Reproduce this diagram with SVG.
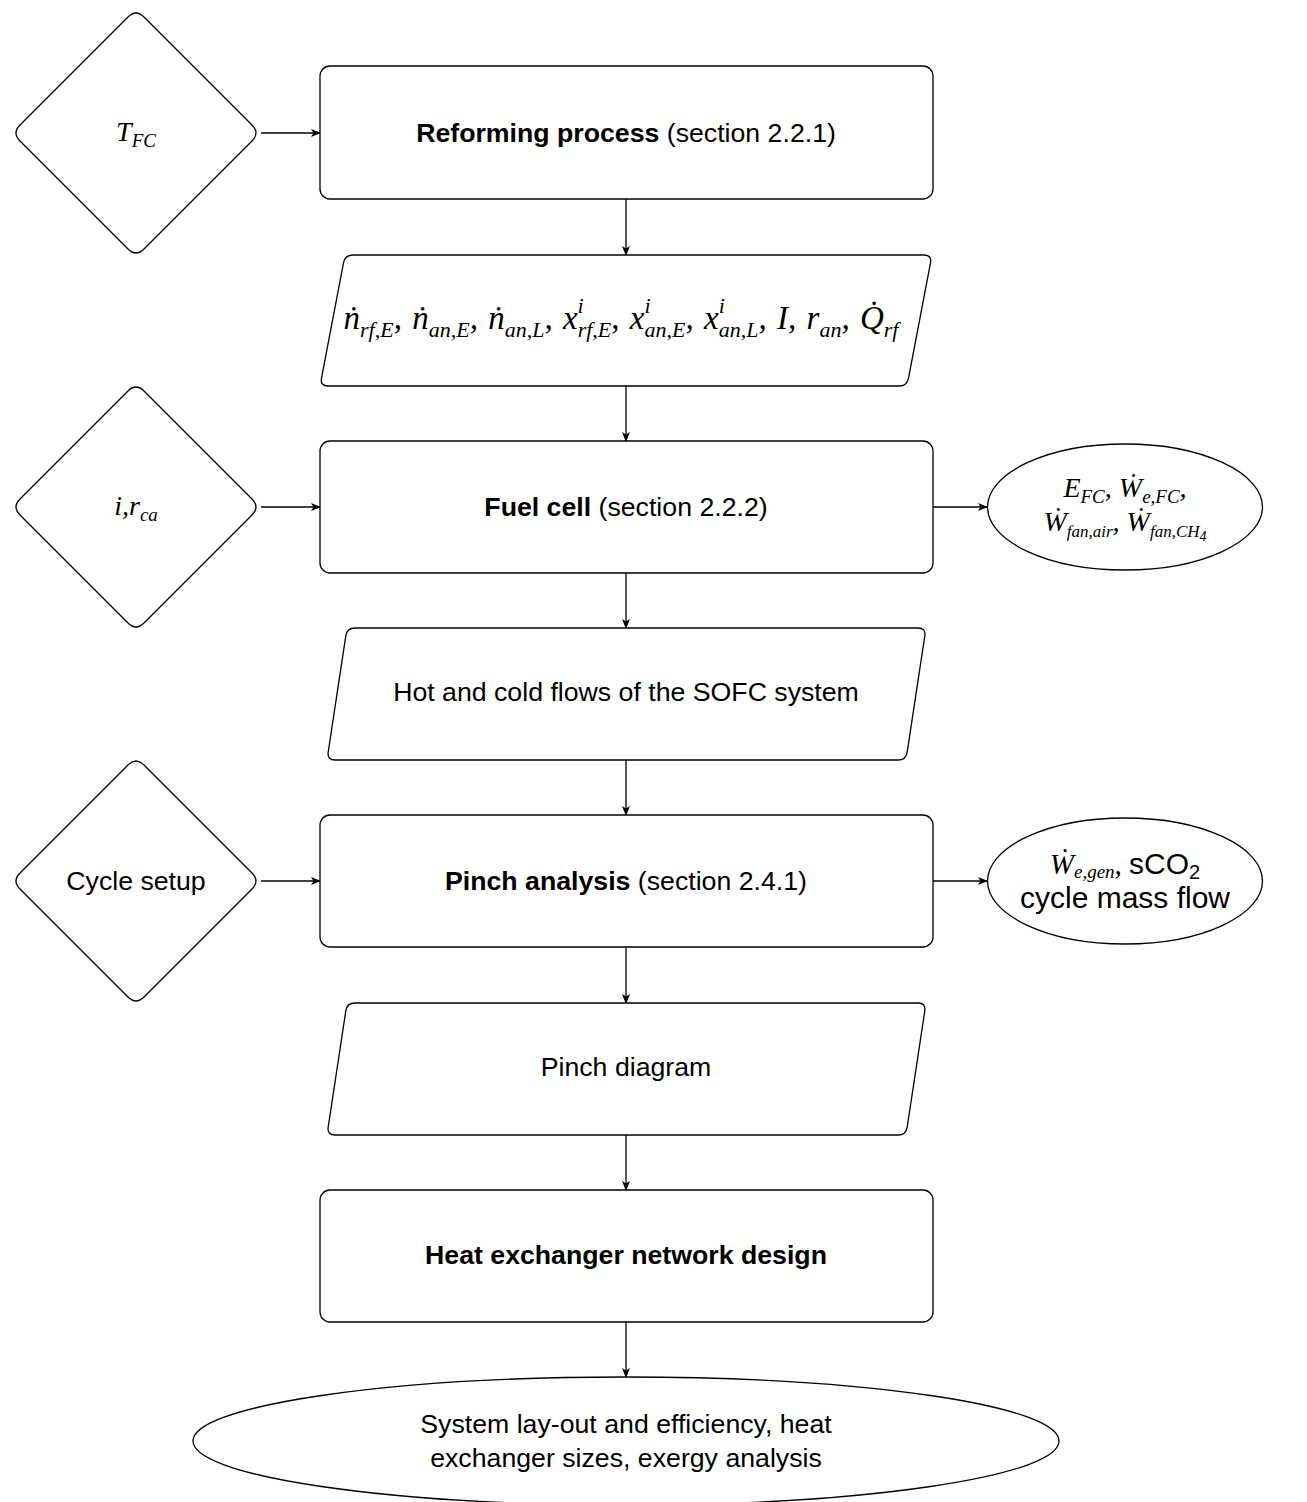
<svg xmlns="http://www.w3.org/2000/svg" width="1307" height="1502" viewBox="0 0 1307 1502">
<style>
.shape{fill:#fff;stroke:#000;stroke-width:1.3}
.ln{fill:none;stroke:#000;stroke-width:1.3}
.t{font-family:"Liberation Sans",Arial,sans-serif;font-size:26.7px;fill:#000;text-anchor:middle}
.b{font-weight:bold}
.m{font-family:"Liberation Serif","Times New Roman",serif;font-style:italic;font-size:28px;fill:#000;text-anchor:middle}
.mb{font-size:33px;word-spacing:2px}
.s{font-size:19px}
.sb{font-size:22px}
.ss{font-size:14px}
.sans{font-family:"Liberation Sans",Arial,sans-serif;font-style:normal}
</style>
<defs>
<marker id="ah" viewBox="0 0 10 8" refX="9" refY="4" markerWidth="10" markerHeight="8" markerUnits="userSpaceOnUse" orient="auto">
<path d="M0,0 L10,4 L0,8 L2.5,4 Z" fill="#000"/>
</marker>
</defs>
<rect width="1307" height="1502" fill="#fff"/>

<g id="connectors" class="ln" marker-end="url(#ah)">
<line x1="626" y1="199" x2="626" y2="255"/>
<line x1="626" y1="386" x2="626" y2="441"/>
<line x1="626" y1="573" x2="626" y2="628"/>
<line x1="626" y1="760" x2="626" y2="815"/>
<line x1="626" y1="947" x2="626" y2="1003"/>
<line x1="626" y1="1135" x2="626" y2="1190"/>
<line x1="626" y1="1322" x2="626" y2="1377"/>
<line x1="261" y1="133" x2="320" y2="133"/>
<line x1="261" y1="507" x2="320" y2="507"/>
<line x1="261" y1="881" x2="320" y2="881"/>
<line x1="933" y1="507" x2="987" y2="507"/>
<line x1="933" y1="881" x2="987" y2="881"/>
</g>

<g id="d-tfc">
<path class="shape" d="M128,17 Q136,9 144,17 L252,125 Q260,133 252,141 L144,249 Q136,257 128,249 L20,141 Q12,133 20,125 Z"/>
<text class="m" x="136" y="141">T<tspan class="s" dy="6">FC</tspan></text>
</g>

<g id="reforming">
<rect class="shape" x="320" y="66" width="613" height="133" rx="10"/>
<text class="t" x="626" y="142"><tspan class="b">Reforming process</tspan> (section 2.2.1)</text>
</g>

<g id="p-flows">
<path class="shape" d="M353,255 L924,255 Q932,255 930.5,262.9 L908.5,378.1 Q907,386 899,386 L328,386 Q320,386 321.5,378.1 L343.5,262.9 Q345,255 353,255 Z"/>
<text class="m mb" x="621" y="329">ṅ<tspan class="sb" dy="8">rf,E</tspan><tspan dy="-8">, ṅ</tspan><tspan class="sb" dy="8">an,E</tspan><tspan dy="-8">, ṅ</tspan><tspan class="sb" dy="8">an,L</tspan><tspan dy="-8">, x</tspan><tspan class="sb" dy="-16">i</tspan><tspan class="sb" dx="-6" dy="24">rf,E</tspan><tspan dy="-8">, x</tspan><tspan class="sb" dy="-16">i</tspan><tspan class="sb" dx="-6" dy="24">an,E</tspan><tspan dy="-8">, x</tspan><tspan class="sb" dy="-16">i</tspan><tspan class="sb" dx="-6" dy="24">an,L</tspan><tspan dy="-8">, I, r</tspan><tspan class="sb" dy="8">an</tspan><tspan dy="-8">, Q̇</tspan><tspan class="sb" dy="8">rf</tspan></text>
</g>

<g id="d-irca">
<path class="shape" d="M128,391 Q136,383 144,391 L252,499 Q260,507 252,515 L144,623 Q136,631 128,623 L20,515 Q12,507 20,499 Z"/>
<text class="m" x="136" y="515">i,r<tspan class="s" dy="6">ca</tspan></text>
</g>

<g id="fuelcell">
<rect class="shape" x="320" y="441" width="613" height="132" rx="10"/>
<text class="t" x="626" y="516"><tspan class="b">Fuel cell</tspan> (section 2.2.2)</text>
</g>

<g id="e-fc">
<ellipse class="shape" cx="1125" cy="507" rx="137.5" ry="63"/>
<text class="m" x="1125" y="497">E<tspan class="s" dy="6">FC</tspan><tspan dy="-6">, Ẇ</tspan><tspan class="s" dy="6">e,FC</tspan><tspan dy="-6">,</tspan></text>
<text class="m" x="1125" y="531">Ẇ<tspan class="s" dy="6" style="font-size:17px">fan,air</tspan><tspan dy="-6">, Ẇ</tspan><tspan class="s" dy="6" style="font-size:17px">fan,CH</tspan><tspan class="ss" dy="4">4</tspan></text>
</g>

<g id="p-hotcold">
<path class="shape" d="M355,628 L918,628 Q926,628 924.8,635.9 L907.2,752.1 Q906,760 898,760 L335,760 Q327,760 328.2,752.1 L345.8,635.9 Q347,628 355,628 Z"/>
<text class="t" x="626" y="701">Hot and cold flows of the SOFC system</text>
</g>

<g id="d-cycle">
<path class="shape" d="M128,765 Q136,757 144,765 L252,873 Q260,881 252,889 L144,997 Q136,1005 128,997 L20,889 Q12,881 20,873 Z"/>
<text class="t" x="136" y="890">Cycle setup</text>
</g>

<g id="pinch">
<rect class="shape" x="320" y="815" width="613" height="132" rx="10"/>
<text class="t" x="626" y="890"><tspan class="b">Pinch analysis</tspan> (section 2.4.1)</text>
</g>

<g id="e-gen">
<ellipse class="shape" cx="1125" cy="881" rx="137.5" ry="63"/>
<text class="m" x="1125" y="874" style="font-size:29px">Ẇ<tspan class="s" dy="4">e,gen</tspan><tspan dy="-4">, </tspan><tspan class="sans" style="font-size:30px">sCO</tspan><tspan class="sans" style="font-size:20px" dy="5">2</tspan></text>
<text class="t" x="1125" y="908" style="font-size:30px">cycle mass flow</text>
</g>

<g id="p-pinchdiag">
<path class="shape" d="M355,1003 L918,1003 Q926,1003 924.8,1010.9 L907.2,1127.1 Q906,1135 898,1135 L335,1135 Q327,1135 328.2,1127.1 L345.8,1010.9 Q347,1003 355,1003 Z"/>
<text class="t" x="626" y="1076">Pinch diagram</text>
</g>

<g id="hx">
<rect class="shape" x="320" y="1190" width="613" height="132" rx="10"/>
<text class="t b" x="626" y="1264">Heat exchanger network design</text>
</g>

<g id="e-result">
<ellipse class="shape" cx="626" cy="1441" rx="433" ry="64"/>
<text class="t" x="626" y="1433">System lay-out and efficiency, heat</text>
<text class="t" x="626" y="1467">exchanger sizes, exergy analysis</text>
</g>
</svg>
